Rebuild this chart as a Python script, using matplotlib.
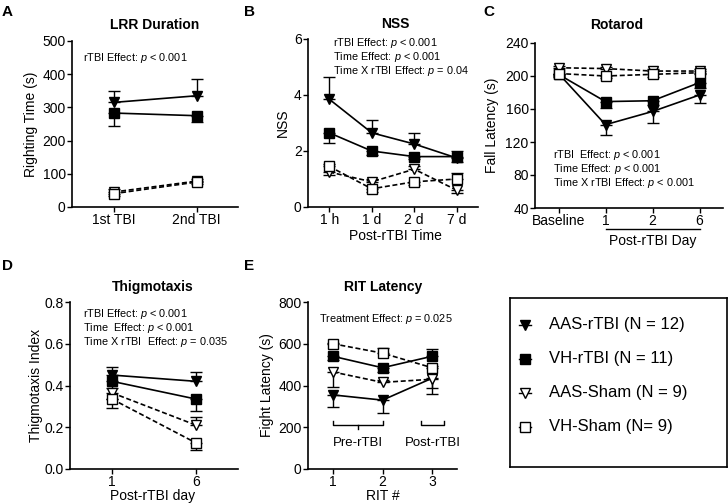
import numpy as np
import matplotlib
matplotlib.use("Agg")
import matplotlib.pyplot as plt
import matplotlib.transforms as mtransforms
from matplotlib.lines import Line2D

plt.rcParams['font.family'] = ['Liberation Sans', 'DejaVu Sans']
plt.rcParams['mathtext.fontset'] = 'custom'
plt.rcParams['mathtext.it'] = 'Liberation Sans:italic'
plt.rcParams['mathtext.rm'] = 'Liberation Sans'

# ── Data (signed errors: + = upper bar, - = lower bar) ──────────────────────
groups = ["AAS-rTBI (N = 12)", "VH-rTBI (N = 11)", "AAS-Sham (N = 9)", "VH-Sham (N= 9)"]

# A: LRR duration
lrr_x = ["1st TBI", "2nd TBI"]
lrr_aas_rtbi = [315, 335]
lrr_aas_rtbi_err = [35, 50]
lrr_vh_rtbi = [283, 275]
lrr_vh_rtbi_err = [-38, -20]
lrr_aas_sham = [45, 78]
lrr_aas_sham_err = [8, 6]
lrr_vh_sham = [40, 75]
lrr_vh_sham_err = [-8, -6]

# B: NSS
nss_x = ["1 h", "1 d", "2 d", "7 d"]
nss_aas_rtbi = [3.85, 2.65, 2.25, 1.75]
nss_aas_rtbi_err = [0.8, 0.45, 0.4, -0.15]
nss_vh_rtbi = [2.65, 2.0, 1.8, 1.8]
nss_vh_rtbi_err = [-0.35, -0.15, -0.1, 0.2]
nss_aas_sham = [1.25, 0.9, 1.35, 0.6]
nss_aas_sham_err = [-0.1, 0.1, 0.1, -0.1]
nss_vh_sham = [1.45, 0.65, 0.9, 1.0]
nss_vh_sham_err = [0.1, -0.1, -0.1, 0.2]

# C: Rotarod
rot_x = ["Baseline", "1", "2", "6"]
rot_aas_rtbi = [203, 141, 157, 177]
rot_aas_rtbi_err = [-3, -13, -14, -10]
rot_vh_rtbi = [202, 169, 170, 192]
rot_vh_rtbi_err = [-3, -8, -5, -6]
rot_aas_sham = [210, 209, 206, 206]
rot_aas_sham_err = [2, 2, 2, 2]
rot_vh_sham = [203, 200, 202, 204]
rot_vh_sham_err = [-2, -3, -3, -2]

# D: Thigmotaxis
thig_x = ["1", "6"]
thig_aas_rtbi = [0.45, 0.42]
thig_aas_rtbi_err = [0.04, 0.045]
thig_vh_rtbi = [0.42, 0.335]
thig_vh_rtbi_err = [-0.03, -0.055]
thig_aas_sham = [0.365, 0.21]
thig_aas_sham_err = [-0.03, 0.04]
thig_vh_sham = [0.335, 0.125]
thig_vh_sham_err = [-0.045, -0.035]

# E: RIT latency
rit_x = ["1", "2", "3"]
rit_aas_rtbi = [355, 330, 435]
rit_aas_rtbi_err = [-60, -60, -75]
rit_vh_rtbi = [540, 485, 540]
rit_vh_rtbi_err = [-20, -20, 35]
rit_aas_sham = [465, 415, 430]
rit_aas_sham_err = [-72, 10, -40]
rit_vh_sham = [600, 555, 485]
rit_vh_sham_err = [5, 25, 10]

# ── Styling ─────────────────────────────────────────────────────────────────
W, H = 728, 503
STYLES = [
    dict(marker="v", mfc="black", ls="-"),
    dict(marker="s", mfc="black", ls="-"),
    dict(marker="v", mfc="white", ls=(0, (3, 1.6))),
    dict(marker="s", mfc="white", ls=(0, (3, 1.6))),
]
TICK_FS = 10
NOTE_FS = 7.8
TITLE_FS = 10
LETTER_FS = 11


def px_axes(fig, x0, y0, x1, y1):
    return fig.add_axes([x0 / W, 1 - y1 / H, (x1 - x0) / W, (y1 - y0) / H])


def fig_text(fig, x, y, s, **kw):
    fig.text(x / W, 1 - y / H, s, **kw)


def draw_series(ax, xs, ys, errs, style):
    ys = np.asarray(ys, float)
    errs = np.asarray(errs, float)
    lower = np.where(errs < 0, -errs, 0)
    upper = np.where(errs > 0, errs, 0)
    ax.errorbar(xs, ys, yerr=[lower, upper], fmt="none", ecolor="black",
                elinewidth=1.0, capsize=4.5, capthick=1.0, zorder=2)
    ax.plot(xs, ys, color="black", lw=1.2, ls=style["ls"], marker=style["marker"],
            ms=7.5 if style["marker"] == "v" else 6.8, mfc=style["mfc"],
            mec="black", mew=1.0, zorder=3)


def style_axes(ax, xticklabels, ylim, yticks, yfmt="{:g}"):
    n = len(xticklabels)
    ax.set_xlim(-0.5, n - 0.5)
    ax.set_xticks(range(n))
    ax.set_xticklabels(xticklabels, fontsize=TICK_FS)
    ax.set_ylim(*ylim)
    ax.set_yticks(yticks)
    ax.set_yticklabels([yfmt.format(v) for v in yticks], fontsize=TICK_FS)
    for side in ("top", "right"):
        ax.spines[side].set_visible(False)
    for side in ("left", "bottom"):
        ax.spines[side].set_linewidth(1.2)
    ax.tick_params(direction="out", length=3.5, width=1.0, pad=1)
    ax.patch.set_alpha(0)


def panel(ax, xlabels, series, errs):
    xs = np.arange(len(xlabels))
    for ys, es, st in zip(series, errs, STYLES):
        draw_series(ax, xs, ys, es, st)


fig = plt.figure(figsize=(W / 100, H / 100), dpi=100)

# ── A ──
axA = px_axes(fig, 72, 41, 238, 207)
panel(axA, lrr_x, [lrr_aas_rtbi, lrr_vh_rtbi, lrr_aas_sham, lrr_vh_sham],
      [lrr_aas_rtbi_err, lrr_vh_rtbi_err, lrr_aas_sham_err, lrr_vh_sham_err])
style_axes(axA, lrr_x, (0, 500), [0, 100, 200, 300, 400, 500])
axA.text(0.066, 0.90, r"rTBI Effect: $p$ < 0.001", transform=axA.transAxes,
         fontsize=NOTE_FS, va="center")
fig_text(fig, 155, 25, "LRR Duration", fontsize=TITLE_FS, fontweight="bold", ha="center", va="center")
fig_text(fig, 31, 124, "Righting Time (s)", fontsize=TICK_FS, rotation=90, ha="center", va="center")
fig_text(fig, 2, 12, "A", fontsize=LETTER_FS, fontweight="bold", va="center")

# ── B ──
axB = px_axes(fig, 308, 39, 478, 207)
panel(axB, nss_x, [nss_aas_rtbi, nss_vh_rtbi, nss_aas_sham, nss_vh_sham],
      [nss_aas_rtbi_err, nss_vh_rtbi_err, nss_aas_sham_err, nss_vh_sham_err])
style_axes(axB, nss_x, (0, 6), [0, 2, 4, 6])
for i, s in enumerate([r"rTBI Effect: $p$ < 0.001", r"Time Effect: $p$ < 0.001",
                       r"Time X rTBI Effect: $p$ = 0.04"]):
    fig_text(fig, 333, 43 + 14 * i, s, fontsize=NOTE_FS, va="center")
fig_text(fig, 395, 24, "NSS", fontsize=TITLE_FS, fontweight="bold", ha="center", va="center")
fig_text(fig, 283, 123, "NSS", fontsize=TICK_FS, rotation=90, ha="center", va="center")
fig_text(fig, 395, 236, "Post-rTBI Time", fontsize=TICK_FS, ha="center", va="center")
fig_text(fig, 244, 12, "B", fontsize=LETTER_FS, fontweight="bold", va="center")

# ── C ──
axC = px_axes(fig, 535, 43, 723, 208)
panel(axC, rot_x, [rot_aas_rtbi, rot_vh_rtbi, rot_aas_sham, rot_vh_sham],
      [rot_aas_rtbi_err, rot_vh_rtbi_err, rot_aas_sham_err, rot_vh_sham_err])
style_axes(axC, rot_x, (40, 240), [40, 80, 120, 160, 200, 240])
for i, s in enumerate([r"rTBI  Effect: $p$ < 0.001", r"Time Effect: $p$ < 0.001",
                       r"Time X rTBI Effect: $p$ < 0.001"]):
    fig_text(fig, 553, 155 + 14 * i, s, fontsize=NOTE_FS, va="center")
trans = mtransforms.blended_transform_factory(axC.transData, axC.transAxes)
axC.add_line(Line2D([1, 3], [-0.127, -0.127], transform=trans, color="black",
                    lw=1.0, clip_on=False))
fig_text(fig, 617, 25, "Rotarod", fontsize=TITLE_FS, fontweight="bold", ha="center", va="center")
fig_text(fig, 492, 125, "Fall Latency (s)", fontsize=TICK_FS, rotation=90, ha="center", va="center")
fig_text(fig, 653, 241, "Post-rTBI Day", fontsize=TICK_FS, ha="center", va="center")
fig_text(fig, 483, 12, "C", fontsize=LETTER_FS, fontweight="bold", va="center")

# ── D ──
axD = px_axes(fig, 70, 302, 238, 469)
panel(axD, thig_x, [thig_aas_rtbi, thig_vh_rtbi, thig_aas_sham, thig_vh_sham],
      [thig_aas_rtbi_err, thig_vh_rtbi_err, thig_aas_sham_err, thig_vh_sham_err])
style_axes(axD, thig_x, (0, 0.8), [0, 0.2, 0.4, 0.6, 0.8], yfmt="{:.1f}")
for i, s in enumerate([r"rTBI Effect: $p$ < 0.001", r"Time  Effect: $p$ < 0.001",
                       r"Time X rTBI  Effect: $p$ = 0.035"]):
    fig_text(fig, 83, 314 + 14 * i, s, fontsize=NOTE_FS, va="center")
fig_text(fig, 153, 287, "Thigmotaxis", fontsize=TITLE_FS, fontweight="bold", ha="center", va="center")
fig_text(fig, 36, 385, "Thigmotaxis Index", fontsize=TICK_FS, rotation=90, ha="center", va="center")
fig_text(fig, 153, 496, "Post-rTBI day", fontsize=TICK_FS, ha="center", va="center")
fig_text(fig, 2, 266, "D", fontsize=LETTER_FS, fontweight="bold", va="center")

# ── E ──
axE = px_axes(fig, 308, 302, 457, 469)
xsE = np.arange(1, 4)
for ys, es, st in zip([rit_aas_rtbi, rit_vh_rtbi, rit_aas_sham, rit_vh_sham],
                      [rit_aas_rtbi_err, rit_vh_rtbi_err, rit_aas_sham_err, rit_vh_sham_err],
                      STYLES):
    draw_series(axE, xsE, ys, es, st)
style_axes(axE, rit_x, (0, 800), [0, 200, 400, 600, 800])
axE.set_xlim(0.5, 3.5)
axE.set_xticks(xsE)
axE.set_xticklabels(rit_x, fontsize=TICK_FS)
axE.text(0.52, 0.90, r"Treatment Effect: $p$ = 0.025", transform=axE.transAxes,
         fontsize=NOTE_FS, ha="center", va="center")
# brackets
yb, hook = 211, 18
axE.plot([1, 1, 2, 2], [yb + hook, yb, yb, yb + hook], color="black", lw=1.0, clip_on=False)
axE.plot([1.5, 1.5], [yb, yb - hook], color="black", lw=1.0, clip_on=False)
axE.plot([2.78, 2.78, 3.24, 3.24], [yb + hook, yb, yb, yb + hook], color="black", lw=1.0, clip_on=False)
axE.text(1.5, 125, "Pre-rTBI", fontsize=TICK_FS - 0.5, ha="center", va="center")
axE.text(3.02, 125, "Post-rTBI", fontsize=TICK_FS - 0.5, ha="center", va="center", clip_on=False)
fig_text(fig, 383, 287, "RIT Latency", fontsize=TITLE_FS, fontweight="bold", ha="center", va="center")
fig_text(fig, 267, 385, "Fight Latency (s)", fontsize=TICK_FS, rotation=90, ha="center", va="center")
fig_text(fig, 383, 496, "RIT #", fontsize=TICK_FS, ha="center", va="center")
fig_text(fig, 244, 266, "E", fontsize=LETTER_FS, fontweight="bold", va="center")

# ── Legend (drawn in its own framed axes) ──
axL = px_axes(fig, 510, 298, 727, 467)
axL.set_xlim(0, 217)
axL.set_ylim(169, 0)
axL.set_xticks([])
axL.set_yticks([])
for sp in axL.spines.values():
    sp.set_linewidth(1.2)
for i, (label, st) in enumerate(zip(groups, STYLES)):
    yy = 27 + 34 * i
    axL.plot([9, 21], [yy, yy], color="black", lw=1.0)
    axL.plot([15], [yy], marker=st["marker"], mfc=st["mfc"], mec="black",
             ms=7 if st["marker"] == "v" else 6.5, mew=1.0, ls="none")
    axL.text(39, yy, label, fontsize=12, va="center", ha="left")

fig.savefig("out.png", dpi=100)
